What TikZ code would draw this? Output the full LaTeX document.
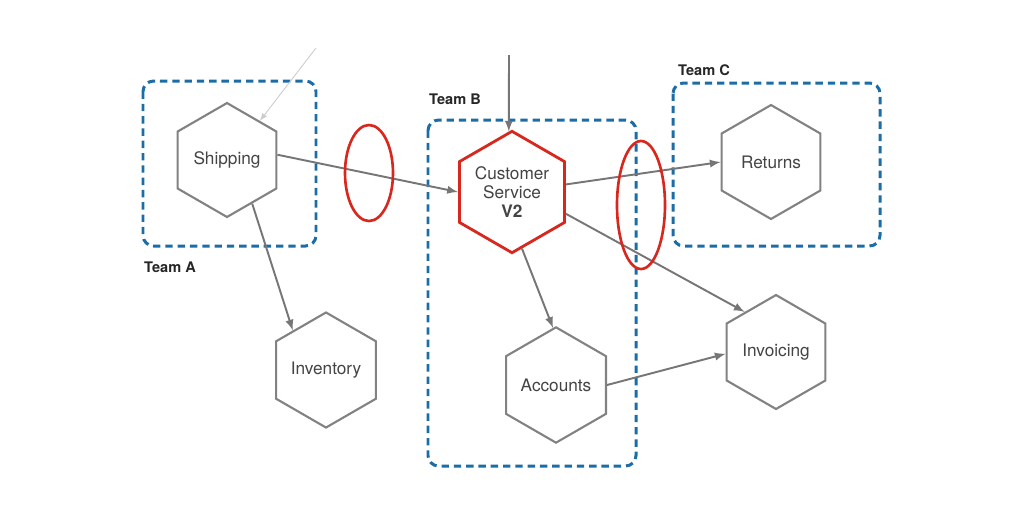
\documentclass[tikz,border=0pt]{standalone}
\usepackage{fontspec}
\setmainfont{TeX Gyre Heros}
\usetikzlibrary{shapes.geometric}

\definecolor{teamblue}{RGB}{28,108,166}
\definecolor{hotred}{RGB}{216,40,30}
\definecolor{hexgray}{RGB}{130,130,130}
\definecolor{callgray}{RGB}{118,118,118}
\definecolor{textgray}{RGB}{68,68,68}

\begin{document}
\begin{tikzpicture}[x=0.02cm, y=-0.02cm, >=latex]
    \tikzstyle{service} = [draw=hexgray, line width=1.2pt, fill=white, regular polygon, regular polygon sides=6, shape border rotate=30, minimum size=2.28cm, inner sep=0pt, text=textgray, align=center, font=\fontsize{9.8}{11}\selectfont]
    \tikzstyle{hotspot} = [service, draw=hotred, line width=1.6pt]
    \tikzstyle{team} = [draw=teamblue, line width=1.7pt, dash pattern=on 4.2pt off 2.8pt, rounded corners=6pt]
    \tikzstyle{teamlabel} = [font=\bfseries\fontsize{8.3}{10}\selectfont, text=black!85]
    \tikzstyle{call} = [draw=callgray, line width=1.1pt, ->]
    \tikzstyle{boundary} = [draw=hotred, line width=1.5pt]
    \useasboundingbox (0, 0) rectangle (1024, 512);
    \draw[team] (143, 81) rectangle (316, 246);
    \draw[team] (428, 120) rectangle (636, 466);
    \draw[team] (673, 83) rectangle (880, 246);
    \node[teamlabel] (labelA) at (170, 267) {Team A};
    \node[teamlabel] (labelB) at (455, 99) {Team B};
    \node[teamlabel] (labelC) at (704, 70) {Team C};
    \node[service] (shipping) at (227, 160) {Shipping};
    \node[service] (inventory) at (326, 370) {Inventory};
    \node[hotspot] (custserv) at (512, 192) {Customer\\Service\\\textbf{V2}};
    \node[service] (accounts) at (556, 385) {Accounts};
    \node[service] (returns) at (771, 162) {Returns};
    \node[service] (invoicing) at (776, 352) {Invoicing};
    \coordinate (faint) at (316, 48);
    \coordinate (caller) at (509, 55);
    \draw[call, draw=black!20, line width=0.5pt] (faint) -- (shipping.50);
    \draw[call] (caller) -- (custserv.93);
    \draw[call] (shipping.6) -- (custserv.180);
    \draw[call] (shipping.-60) -- (inventory.130);
    \draw[call] (custserv.8) -- (returns.180);
    \draw[call] (custserv.-22) -- (invoicing.128);
    \draw[call] (custserv.-80) -- (accounts.93);
    \draw[call] (accounts.0) -- (invoicing.182);
    \draw[boundary] (369, 173) ellipse (24 and 48);
    \draw[boundary] (641, 205) ellipse (24 and 64);
\end{tikzpicture}
\end{document}
